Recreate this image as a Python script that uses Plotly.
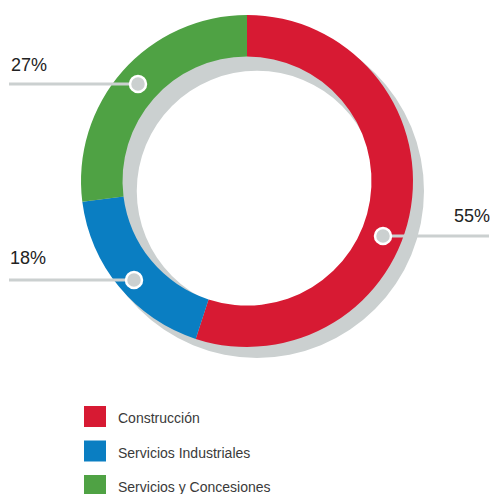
import plotly.graph_objects as go

# ---- data ----
categories = ["Construcción", "Servicios Industriales", "Servicios y Concesiones"]
values = [55, 18, 27]
colors = ["#d71a33", "#0a7ec2", "#4fa244"]
shadow_color = "#cbd0d0"

W, H = 493, 494


def px(x):
    return x / W


def py(y):
    return 1 - y / H


fig = go.Figure()

# shadow ring
fig.add_trace(go.Pie(
    values=[1], labels=["shadow"], marker=dict(colors=[shadow_color], line=dict(width=0)),
    hole=0.72, textinfo="none", hoverinfo="skip", showlegend=False, sort=False,
    domain=dict(x=[px(90), px(424)], y=[py(358), py(24)]),
))

# main ring
fig.add_trace(go.Pie(
    values=values, labels=categories, marker=dict(colors=colors, line=dict(width=0)),
    hole=0.75, textinfo="none", sort=False, direction="clockwise", rotation=0,
    showlegend=False,
    domain=dict(x=[px(81), px(413)], y=[py(347), py(15)]),
))

shapes = []
annotations = []

# label call-outs: (line x0, line x1, y, circle x, text x, text y, anchor)
callouts = {
    "Construcción": (383, 489, 236, 383, 492, 216, "right"),
    "Servicios Industriales": (9, 134, 280, 134, 8, 258, "left"),
    "Servicios y Concesiones": (9, 138, 84, 138, 9, 65, "left"),
}
for cat, val in zip(categories, values):
    x0, x1, y, cx, tx, ty, anc = callouts[cat]
    shapes.append(dict(type="line", xref="paper", yref="paper",
                       x0=px(x0), x1=px(x1), y0=py(y), y1=py(y),
                       line=dict(color=shadow_color, width=3), layer="above"))
    r = 8
    shapes.append(dict(type="circle", xref="paper", yref="paper",
                       x0=px(cx - r), x1=px(cx + r), y0=py(y + r), y1=py(y - r),
                       fillcolor=shadow_color, line=dict(color="white", width=2.5),
                       layer="above"))
    annotations.append(dict(text=f"{val}%", xref="paper", yref="paper",
                            x=px(tx), y=py(ty), xanchor=anc, yanchor="middle",
                            showarrow=False,
                            font=dict(family="Liberation Sans, Arial", size=18, color="#222222")))

# legend
for i, (cat, col) in enumerate(zip(categories, colors)):
    top = 406 + i * 34.5
    shapes.append(dict(type="rect", xref="paper", yref="paper",
                       x0=px(84), x1=px(106), y0=py(top + 21), y1=py(top),
                       fillcolor=col, line=dict(width=0)))
    annotations.append(dict(text=cat, xref="paper", yref="paper",
                            x=px(116), y=py(top + 12), xanchor="left", yanchor="middle",
                            showarrow=False,
                            font=dict(family="Liberation Sans, Arial", size=14, color="#3a3a3a")))

fig.update_layout(
    width=W, height=H,
    margin=dict(l=0, r=0, t=0, b=0),
    paper_bgcolor="white", plot_bgcolor="white",
    shapes=shapes, annotations=annotations,
    showlegend=False,
)

fig.write_html(
    "out.html",
    config={"displayModeBar": False},
    post_script="document.body.style.margin='0';document.body.style.overflow='hidden';",
)
